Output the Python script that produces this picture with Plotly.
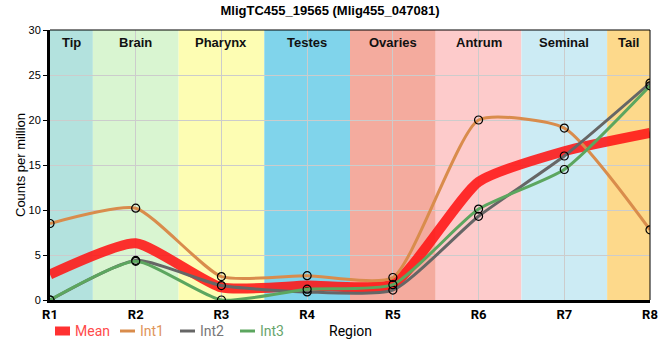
import plotly.graph_objects as go

regions = ["R1", "R2", "R3", "R4", "R5", "R6", "R7", "R8"]
band_labels = ["Tip", "Brain", "Pharynx", "Testes", "Ovaries", "Antrum", "Seminal", "Tail"]
band_colors = ["#b3e2de", "#d9f5d1", "#fdfdb3", "#80d4eb", "#f4ab9e", "#fdcbcb", "#ccebf4", "#fdd98b"]

int1 = [8.5, 10.2, 2.6, 2.7, 2.5, 20.0, 19.1, 7.8]
int2 = [0.0, 4.4, 1.6, 0.9, 1.1, 9.3, 16.0, 24.1]
int3 = [0.0, 4.3, 0.0, 1.2, 1.7, 10.1, 14.5, 23.8]
mean = [round((a + b + c) / 3, 3) for a, b, c in zip(int1, int2, int3)]

x = list(range(len(regions)))

# plot area geometry (pixels)
L, R, T, B = 50, 10, 30, 60
W, H = 660, 360
PW, PH = W - L - R, H - T - B


def px_x(p):
    return (p - L) / PW


def px_y(p):
    return (H - B - p) / PH


SMOOTH = 0.55

fig = go.Figure()

fig.add_trace(go.Scatter(
    x=x, y=mean, mode="lines", name="Mean", showlegend=False,
    line=dict(color="rgba(255,20,20,0.88)", width=10, shape="spline", smoothing=SMOOTH),
))
series = [("Int1", int1, "#d98c4c"), ("Int2", int2, "#666666"), ("Int3", int3, "#5ca65f")]
for name, vals, col in series:
    fig.add_trace(go.Scatter(
        x=x, y=vals, mode="lines+markers", name=name, showlegend=False,
        line=dict(color=col, width=3, shape="spline", smoothing=SMOOTH),
        marker=dict(symbol="circle-open", size=8, color="black", line=dict(width=1.2, color="black")),
    ))

shapes = []
annotations = []
for i, (lab, col) in enumerate(zip(band_labels, band_colors)):
    x0 = max(i - 0.5, 0)
    x1 = min(i + 0.5, len(regions) - 1)
    shapes.append(dict(type="rect", xref="x", yref="y", x0=x0, x1=x1, y0=0, y1=30,
                       fillcolor=col, line=dict(width=0), layer="below"))
    annotations.append(dict(x=(x0 + x1) / 2, y=30, xref="x", yref="y", text=f"<b>{lab}</b>",
                            showarrow=False, yanchor="top", yshift=-3,
                            font=dict(family="Liberation Sans, Arial", size=13, color="#111")))
# thin frame top/right
shapes.append(dict(type="line", xref="paper", yref="paper", x0=0, x1=1, y0=1, y1=1,
                   line=dict(color="black", width=1)))
shapes.append(dict(type="line", xref="paper", yref="paper", x0=1, x1=1, y0=0, y1=1,
                   line=dict(color="black", width=1)))

# manual legend
legend_items = [("Mean", "rgba(255,20,20,0.88)", "#ff4a4a", 9, 55),
                ("Int1", "#d98c4c", "#e0955a", 3, 120),
                ("Int2", "#666666", "#777777", 3, 180),
                ("Int3", "#5ca65f", "#68a56c", 3, 240)]
ly = 331
for name, lcol, tcol, lw, sx in legend_items:
    shapes.append(dict(type="line", xref="paper", yref="paper", x0=px_x(sx), x1=px_x(sx + 15),
                       y0=px_y(ly), y1=px_y(ly), line=dict(color=lcol, width=lw)))
    annotations.append(dict(x=px_x(sx + 18), y=px_y(ly), xref="paper", yref="paper", text=name,
                            showarrow=False, xanchor="left", yanchor="middle",
                            font=dict(family="Roboto", size=14, color=tcol)))
annotations.append(dict(x=0.5, y=px_y(ly), xref="paper", yref="paper", text="Region",
                        showarrow=False, xanchor="center", yanchor="middle",
                        font=dict(family="Roboto", size=14, color="black")))
# y-axis title
annotations.append(dict(x=px_x(20), y=0.5, xref="paper", yref="paper", text="Counts per million",
                        showarrow=False, xanchor="center", yanchor="middle", textangle=-90,
                        font=dict(family="Liberation Sans, Arial", size=13, color="black")))

fig.update_layout(
    width=W, height=H,
    margin=dict(l=L, r=R, t=T, b=B, autoexpand=False),
    paper_bgcolor="white", plot_bgcolor="white",
    title=dict(text="<b>MligTC455_19565 (Mlig455_047081)</b>", x=0.5, xanchor="center",
               y=0.985, yanchor="top",
               font=dict(family="Liberation Sans, Arial", size=13, color="black")),
    shapes=shapes, annotations=annotations,
    showlegend=False,
    font=dict(family="Roboto", color="black"),
)
fig.update_xaxes(
    range=[0, len(regions) - 1], tickvals=x, ticktext=[f"<b>{r}</b>" for r in regions],
    tickfont=dict(family="Roboto", size=13, color="black"),
    showgrid=True, gridcolor="#cccccc", gridwidth=1, automargin=False,
    showline=True, linecolor="black", linewidth=3, zeroline=False,
    ticks="",
)
fig.update_yaxes(
    range=[0, 30], tickvals=[0, 5, 10, 15, 20, 25, 30],
    tickfont=dict(family="Liberation Sans, Arial", size=11, color="black"),
    showgrid=True, gridcolor="#cccccc", gridwidth=1, automargin=False,
    showline=True, linecolor="black", linewidth=3, zeroline=False,
    ticks="outside", ticklen=4, tickcolor="black",
)

fig.write_html("out.html", config={"displayModeBar": False},
               post_script="document.body.style.margin='0';document.body.style.overflow='hidden';")
